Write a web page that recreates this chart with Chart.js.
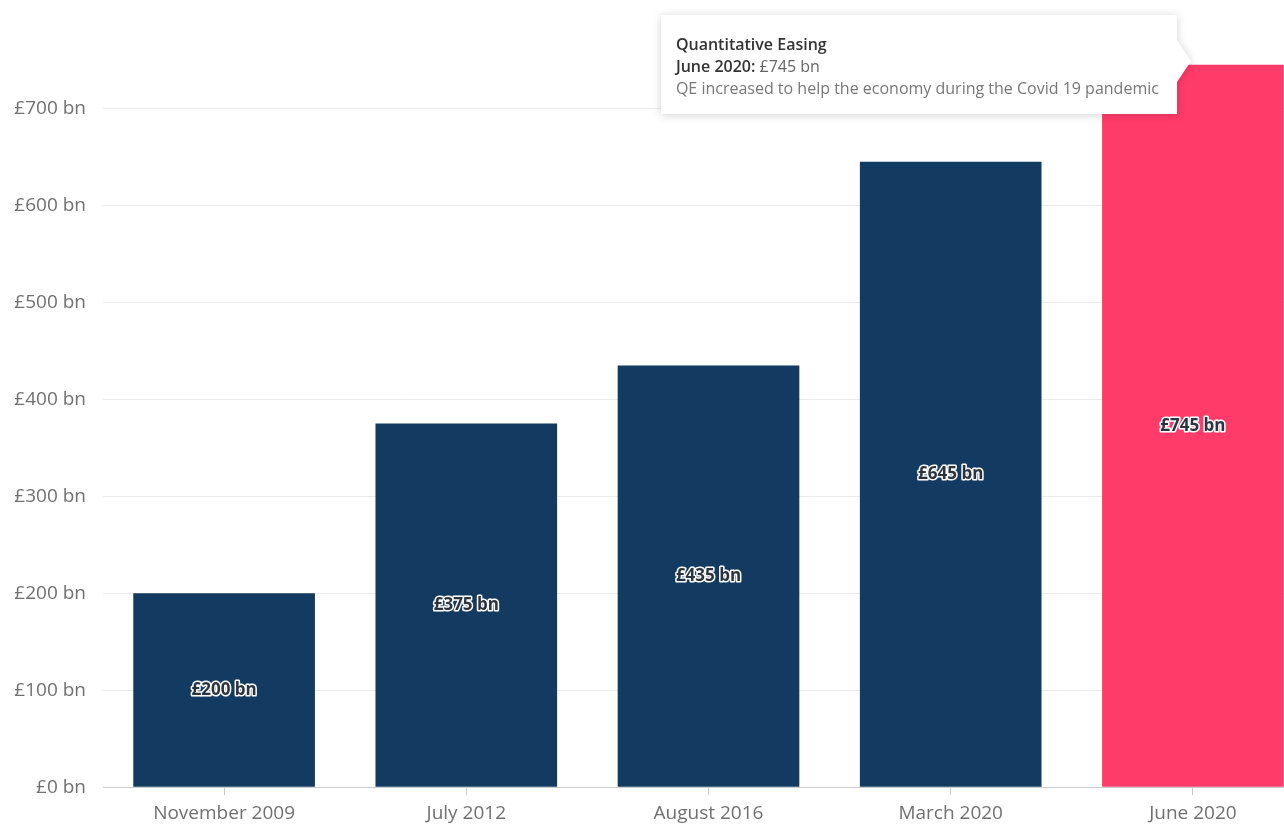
<!DOCTYPE html>
<html>
<head>
<meta charset="utf-8">
<script src="https://cdn.jsdelivr.net/npm/chart.js@4/dist/chart.umd.min.js"></script>
<style>
  html, body { margin: 0; padding: 0; background: #fff; overflow: hidden; }
  #wrap { position: relative; width: 1320px; height: 836px; }
  #qeTip {
    position: absolute; display: none; box-sizing: border-box;
    background: #fff; padding: 18px 18px 15px 15px;
    font-family: "Open Sans", sans-serif; font-size: 16px; line-height: 22px;
    color: #777; white-space: nowrap;
    filter: drop-shadow(0 1px 4px rgba(0,0,0,0.18));
  }
  #qeTip .caret {
    position: absolute; right: -14px; top: 25px; width: 0; height: 0;
    border-top: 21px solid transparent; border-bottom: 21px solid transparent;
    border-left: 14px solid #fff;
  }
  #qeTip b { font-weight: 600; color: #333; }
  #qeTip .val { color: #666; }
</style>
</head>
<body>
<div id="wrap">
  <canvas id="qeChart" width="1320" height="836"></canvas>
  <div id="qeTip"></div>
</div>
<script>
// QE totals by announcement date (GBP bn)
const dates = ["November 2009", "July 2012", "August 2016", "March 2020", "June 2020"];
const qeTotals = [200, 375, 435, 645, 745];
const notes = ["", "", "", "", "QE increased to help the economy during the Covid 19 pandemic"];
const seriesName = "Quantitative Easing";
const yTicks = [0, 100, 200, 300, 400, 500, 600, 700];

const NAVY = "#133a60";
const PINK = "#ff3b69";

function fmtBn(v) {
  return `£${v} bn`;
}

Chart.defaults.font.family = "'Open Sans', sans-serif";
Chart.defaults.color = "#707070";

// value labels in the middle of each bar
const barLabelPlugin = {
  id: "barLabelPlugin",
  afterDatasetsDraw(chart) {
    const { ctx } = chart;
    const meta = chart.getDatasetMeta(0);
    ctx.save();
    ctx.font = "bold 17px 'Open Sans', sans-serif";
    ctx.textAlign = "center";
    ctx.textBaseline = "middle";
    ctx.lineJoin = "round";
    meta.data.forEach((bar, i) => {
      const txt = fmtBn(qeTotals[i]);
      const y = (bar.y + bar.base) / 2;
      ctx.lineWidth = 3;
      ctx.strokeStyle = "#ffffff";
      ctx.strokeText(txt, bar.x, y);
      ctx.fillStyle = "#2a3440";
      ctx.fillText(txt, bar.x, y);
    });
    ctx.restore();
  }
};

function externalTip(context) {
  const tipEl = document.getElementById("qeTip");
  const tip = context.tooltip;
  if (tip.opacity === 0 || !tip.dataPoints || !tip.dataPoints.length) {
    tipEl.style.display = "none";
    return;
  }
  const i = tip.dataPoints[0].dataIndex;
  tipEl.innerHTML =
    `<b>${seriesName}</b><br>` +
    `<b>${dates[i]}:</b> <span class="val">${fmtBn(qeTotals[i])}</span><br>` +
    `${notes[i]}<span class="caret"></span>`;
  tipEl.style.display = "block";
  const w = tipEl.offsetWidth;
  tipEl.style.left = (tip.caretX - 16 - w) + "px";
  tipEl.style.top = (tip.caretY - 50) + "px";
}

const ctx = document.getElementById("qeChart").getContext("2d");
const qeChart = new Chart(ctx, {
  type: "bar",
  data: {
    labels: dates,
    datasets: [{
      label: seriesName,
      data: qeTotals,
      backgroundColor: qeTotals.map((v, i) => i === qeTotals.length - 1 ? PINK : NAVY),
      borderWidth: 0,
      barPercentage: 0.75,
      categoryPercentage: 1
    }]
  },
  options: {
    responsive: false,
    animation: false,
    events: [],
    layout: { padding: { top: 60, right: 6, bottom: 4, left: 0 } },
    plugins: {
      legend: { display: false },
      tooltip: { enabled: false, external: externalTip }
    },
    scales: {
      x: {
        grid: { display: true, drawOnChartArea: false, offset: false, tickLength: 8, color: "#cccccc" },
        border: { display: true, color: "#cccccc" },
        ticks: { font: { size: 19 }, padding: 7, color: "#707070" }
      },
      y: {
        min: 0,
        max: 750,
        afterBuildTicks: axis => { axis.ticks = yTicks.map(v => ({ value: v })); },
        afterFit: axis => { axis.width = 103; },
        grid: { color: "#ebebeb", drawTicks: false },
        border: { display: false },
        ticks: { font: { size: 19 }, padding: 17, color: "#707070", callback: v => fmtBn(v) }
      }
    }
  },
  plugins: [barLabelPlugin]
});

const last = qeTotals.length - 1;
const el = qeChart.getDatasetMeta(0).data[last];
qeChart.tooltip.setActiveElements([{ datasetIndex: 0, index: last }], { x: el.x, y: el.y });
qeChart.update();
</script>
</body>
</html>
